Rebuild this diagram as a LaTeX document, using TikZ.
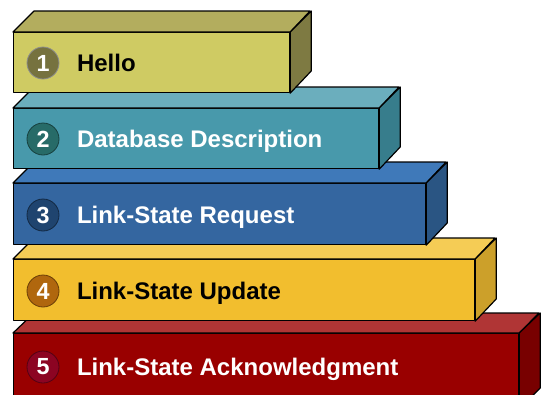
\documentclass[tikz,border=0pt]{standalone}
\usepackage{fontspec}
\setmainfont{Liberation Sans}
\usetikzlibrary{positioning}

\definecolor{helloFront}{HTML}{CFCB63}
\definecolor{helloTop}{HTML}{B3AD5E}
\definecolor{helloSide}{HTML}{7E7A42}
\definecolor{helloNum}{HTML}{76723F}
\definecolor{ddFront}{HTML}{4899AB}
\definecolor{ddTop}{HTML}{6BAEBD}
\definecolor{ddSide}{HTML}{377D8C}
\definecolor{ddNum}{HTML}{276B68}
\definecolor{lsrFront}{HTML}{3466A0}
\definecolor{lsrTop}{HTML}{3F79B9}
\definecolor{lsrSide}{HTML}{2A5583}
\definecolor{lsrNum}{HTML}{1F446F}
\definecolor{lsuFront}{HTML}{F2BE2E}
\definecolor{lsuTop}{HTML}{F5CC55}
\definecolor{lsuSide}{HTML}{CCA02A}
\definecolor{lsuNum}{HTML}{B0670E}
\definecolor{lsaFront}{HTML}{990000}
\definecolor{lsaTop}{HTML}{B03535}
\definecolor{lsaSide}{HTML}{780000}
\definecolor{lsaNum}{HTML}{8C0422}

\begin{document}
\begin{tikzpicture}[x=0.75pt, y=-0.75pt, line join=round,
	front/.style={draw=black, line width=0.9pt, anchor=north west, inner sep=0pt},
	face/.style={draw=black, line width=0.9pt},
	num/.style={circle, minimum size=24pt, inner sep=0pt, line width=0.6pt, text=white, font=\bfseries\fontsize{17.5}{17.5}\selectfont},
	lbl/.style={inner sep=0pt, text height=12.9pt, text depth=0pt, font=\bfseries\fontsize{18}{18}\selectfont}]

	\useasboundingbox (0,0) rectangle (544,394);

	% 5 - acknowledgment
	\node (f5) [front, fill=lsaFront, minimum width=378.75pt, minimum height=56pt] at (13,333) {};
	\filldraw[face, fill=lsaTop] (f5.north west) -- ++(21,-20) -- ++(505,0) -- (f5.north east) -- cycle;
	\filldraw[face, fill=lsaSide] (f5.north east) -- ++(21,-20) -- ++(0,75) -- (f5.south east) -- cycle;
	\node (c5) [num, fill=lsaNum, draw=lsaNum!60!black] at (43,367) {5};
	\node (t5) [lbl, text=white, right=13pt of c5] {Link-State Acknowledgment};

	% 4 - update
	\node (f4) [front, fill=lsuFront, minimum width=345.75pt, minimum height=45.75pt] at (13,259) {};
	\filldraw[face, fill=lsuTop] (f4.north west) -- ++(21,-21) -- ++(461,0) -- (f4.north east) -- cycle;
	\filldraw[face, fill=lsuSide] (f4.north east) -- ++(21,-21) -- ++(0,61) -- (f4.south east) -- cycle;
	\node (c4) [num, fill=lsuNum, draw=lsuNum!60!black] at (43,291) {4};
	\node (t4) [lbl, text=black, right=13pt of c4] {Link-State Update};

	% 3 - request
	\node (f3) [front, fill=lsrFront, minimum width=309pt, minimum height=45.75pt] at (13,183) {};
	\filldraw[face, fill=lsrTop] (f3.north west) -- ++(21,-21) -- ++(412,0) -- (f3.north east) -- cycle;
	\filldraw[face, fill=lsrSide] (f3.north east) -- ++(21,-21) -- ++(0,61) -- (f3.south east) -- cycle;
	\node (c3) [num, fill=lsrNum, draw=lsrNum!60!black] at (43,215) {3};
	\node (t3) [lbl, text=white, right=13pt of c3] {Link-State Request};

	% 2 - database description
	\node (f2) [front, fill=ddFront, minimum width=273.75pt, minimum height=45pt] at (13,108) {};
	\filldraw[face, fill=ddTop] (f2.north west) -- ++(21,-21) -- ++(365,0) -- (f2.north east) -- cycle;
	\filldraw[face, fill=ddSide] (f2.north east) -- ++(21,-21) -- ++(0,60) -- (f2.south east) -- cycle;
	\node (c2) [num, fill=ddNum, draw=ddNum!60!black] at (43,139) {2};
	\node (t2) [lbl, text=white, right=13pt of c2] {Database Description};

	% 1 - hello
	\node (f1) [front, fill=helloFront, minimum width=207pt, minimum height=45pt] at (13,32) {};
	\filldraw[face, fill=helloTop] (f1.north west) -- ++(21,-21) -- ++(276,0) -- (f1.north east) -- cycle;
	\filldraw[face, fill=helloSide] (f1.north east) -- ++(21,-21) -- ++(0,60) -- (f1.south east) -- cycle;
	\node (c1) [num, fill=helloNum, draw=black!45] at (43,63) {1};
	\node (t1) [lbl, text=black, right=13pt of c1] {Hello};

\end{tikzpicture}
\end{document}
